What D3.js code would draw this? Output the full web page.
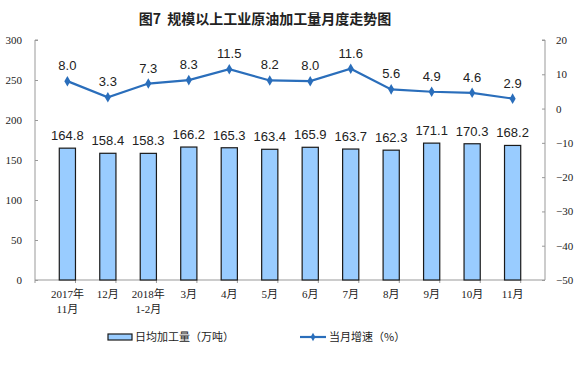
<!DOCTYPE html>
<html>
<head>
<meta charset="utf-8">
<script src="https://cdn.jsdelivr.net/npm/d3@7"></script>
<style>
  body { margin: 0; background: #fff; }
  svg { display: block; }
</style>
</head>
<body>
<div id="chart"></div>
<script>
// data
var categories = ["2017年\n11月", "12月", "2018年\n1-2月", "3月", "4月", "5月", "6月", "7月", "8月", "9月", "10月", "11月"];
var dailyOutput = [164.8, 158.4, 158.3, 166.2, 165.3, 163.4, 165.9, 163.7, 162.3, 171.1, 170.3, 168.2];
var growthRate = [8.0, 3.3, 7.3, 8.3, 11.5, 8.2, 8.0, 11.6, 5.6, 4.9, 4.6, 2.9];
var leftTicks = [0, 50, 100, 150, 200, 250, 300];
var rightTicks = [-50, -40, -30, -20, -10, 0, 10, 20];

var W = 580, H = 369;
var margin = {top: 40, right: 35, bottom: 89, left: 35},
    width = W - margin.left - margin.right,
    height = H - margin.top - margin.bottom;

var barFill = "#99ccff", barStroke = "#1a1a1a", lineColor = "#2a6ebb";

var svg = d3.select("#chart").append("svg")
    .attr("width", W)
    .attr("height", H);

// title
svg.append("text")
    .attr("x", 265).attr("y", 24)
    .attr("text-anchor", "middle")
    .style("font-family", "'Noto Sans CJK SC', sans-serif")
    .style("font-size", "14px")
    .style("font-weight", "bold")
    .style("fill", "#222")
    .text("图7\u00a0\u00a0规模以上工业原油加工量月度走势图");

var g = svg.append("g")
    .attr("transform", "translate(" + margin.left + "," + margin.top + ")");

var x = d3.scaleBand().domain(d3.range(categories.length)).range([0, width]).padding(0.6);
var yL = d3.scaleLinear().domain([0, 300]).range([height, 0]);
var yR = d3.scaleLinear().domain([-50, 20]).range([height, 0]);

// left axis
var axL = g.append("g")
    .call(d3.axisRight(yL).tickValues(leftTicks).tickSize(3));
axL.select(".domain").attr("stroke", "#999").attr("d", "M3,0H0V" + height);
axL.selectAll(".tick line").attr("stroke", "#999");
axL.selectAll(".tick text")
    .attr("text-anchor", "end").attr("x", -13)
    .style("font-family", "'Liberation Serif', serif").style("font-size", "11px").style("fill", "#222");

// right axis
var axR = g.append("g")
    .attr("transform", "translate(" + width + ",0)")
    .call(d3.axisLeft(yR).tickValues(rightTicks).tickSize(3));
axR.select(".domain").attr("stroke", "#999").attr("d", "M-3,0H0V" + height);
axR.selectAll(".tick line").attr("stroke", "#999");
axR.selectAll(".tick text")
    .attr("text-anchor", "start").attr("x", 11)
    .style("font-family", "'Liberation Serif', serif").style("font-size", "11px").style("fill", "#222");

// x axis
var axX = g.append("g")
    .attr("transform", "translate(0," + height + ")");
axX.append("line").attr("x1", 0).attr("x2", width).attr("stroke", "#999");
axX.selectAll("line.t")
    .data(d3.range(categories.length + 1))
    .enter().append("line")
    .attr("class", "t")
    .attr("x1", function(i) { return i * x.step(); })
    .attr("x2", function(i) { return i * x.step(); })
    .attr("y1", 0).attr("y2", 3)
    .attr("stroke", "#999");
var xl = axX.selectAll("text.xl")
    .data(categories)
    .enter().append("text")
    .attr("class", "xl")
    .attr("text-anchor", "middle")
    .attr("transform", function(d, i) { return "translate(" + (x(i) + x.bandwidth() / 2) + ",18)"; })
    .style("font-family", "'Liberation Serif', 'Noto Sans CJK SC', serif")
    .style("font-size", "11px")
    .style("fill", "#222");
xl.selectAll("tspan")
    .data(function(d) { return d.split("\n"); })
    .enter().append("tspan")
    .attr("x", 0)
    .attr("dy", function(d, i) { return i === 0 ? 0 : 15; })
    .text(function(d) { return d; });

// bars
g.selectAll("rect.bar")
    .data(dailyOutput)
    .enter().append("rect")
    .attr("class", "bar")
    .attr("x", function(d, i) { return x(i); })
    .attr("y", function(d) { return yL(d); })
    .attr("width", x.bandwidth())
    .attr("height", function(d) { return height - yL(d); })
    .attr("fill", barFill)
    .attr("stroke", barStroke)
    .attr("stroke-width", 1.2);

g.selectAll("text.bl")
    .data(dailyOutput)
    .enter().append("text")
    .attr("class", "bl")
    .attr("x", function(d, i) { return x(i) + x.bandwidth() / 2; })
    .attr("y", function(d) { return yL(d) - 8; })
    .attr("text-anchor", "middle")
    .style("font-family", "'Liberation Sans', Arial, sans-serif")
    .style("font-size", "13px")
    .style("fill", "#222")
    .text(function(d) { return d.toFixed(1); });

// line
var cx = function(d, i) { return x(i) + x.bandwidth() / 2; };
var line = d3.line()
    .x(cx)
    .y(function(d) { return yR(d); });

g.append("path")
    .datum(growthRate)
    .attr("d", line)
    .attr("fill", "none")
    .attr("stroke", lineColor)
    .attr("stroke-width", 2.2);

g.selectAll("path.pt")
    .data(growthRate)
    .enter().append("path")
    .attr("class", "pt")
    .attr("d", d3.symbol().type(d3.symbolDiamond).size(32))
    .attr("transform", function(d, i) { return "translate(" + cx(d, i) + "," + yR(d) + ")"; })
    .attr("fill", lineColor);

g.selectAll("text.ll")
    .data(growthRate)
    .enter().append("text")
    .attr("class", "ll")
    .attr("x", cx)
    .attr("y", function(d) { return yR(d) - 11; })
    .attr("text-anchor", "middle")
    .style("font-family", "'Liberation Sans', Arial, sans-serif")
    .style("font-size", "13px")
    .style("fill", "#222")
    .text(function(d) { return d.toFixed(1); });

// legend
var lg = svg.append("g").attr("transform", "translate(0,337)");
lg.append("rect")
    .attr("x", 108).attr("y", -3).attr("width", 24).attr("height", 6)
    .attr("fill", barFill).attr("stroke", barStroke).attr("stroke-width", 1.2);
lg.append("text")
    .attr("x", 135).attr("y", 4)
    .style("font-family", "'Noto Sans CJK SC', sans-serif")
    .style("font-size", "11px").style("fill", "#222")
    .text("日均加工量（万吨）");
lg.append("line")
    .attr("x1", 300).attr("x2", 326).attr("y1", 0).attr("y2", 0)
    .attr("stroke", lineColor).attr("stroke-width", 2.2);
lg.append("path")
    .attr("d", d3.symbol().type(d3.symbolDiamond).size(20))
    .attr("transform", "translate(313,0)")
    .attr("fill", lineColor);
lg.append("text")
    .attr("x", 329).attr("y", 4)
    .style("font-family", "'Noto Sans CJK SC', sans-serif")
    .style("font-size", "11px").style("fill", "#222")
    .text("当月增速（%）");
</script>
</body>
</html>
